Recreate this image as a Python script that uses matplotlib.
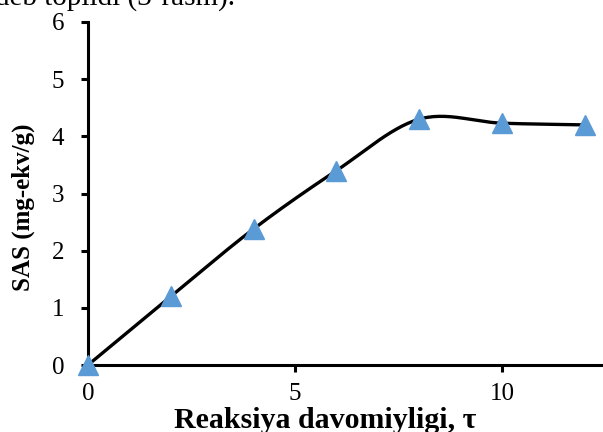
import numpy as np
import matplotlib.pyplot as plt

# data
time = [0, 2, 4, 6, 8, 10, 12]
sas = [0.0, 1.2, 2.38, 3.4, 4.3, 4.23, 4.2]
y_ticks = [0, 1, 2, 3, 4, 5, 6]
x_ticks = [0, 5, 10]


def smooth_curve(x, y, n=30):
    # Catmull-Rom style smoothing, like Excel's "smoothed line"
    x = np.asarray(x, float)
    y = np.asarray(y, float)
    px = np.concatenate([[2 * x[0] - x[1]], x, [2 * x[-1] - x[-2]]])
    py = np.concatenate([[2 * y[0] - y[1]], y, [2 * y[-1] - y[-2]]])
    xs, ys = [], []
    t = np.linspace(0, 1, n)
    for i in range(1, len(px) - 2):
        for p, out in ((px, xs), (py, ys)):
            p0, p1, p2, p3 = p[i - 1], p[i], p[i + 1], p[i + 2]
            out.extend(0.5 * (2 * p1 + (-p0 + p2) * t
                              + (2 * p0 - 5 * p1 + 4 * p2 - p3) * t ** 2
                              + (-p0 + 3 * p1 - 3 * p2 + p3) * t ** 3))
    return xs, ys


plt.rcParams["font.family"] = ["Liberation Serif", "DejaVu Serif"]

fig = plt.figure(figsize=(6.03, 4.32), dpi=100)
ax = fig.add_axes([88 / 603, 1 - 365 / 432, 515 / 603, 343 / 432])

sx, sy = smooth_curve(time, sas)
ax.plot(sx, sy, color="black", lw=2.4, zorder=2)
ax.plot(time, sas, linestyle="none", marker="^", markersize=15,
        color="#5B9BD5", clip_on=False, zorder=3)

ax.set_xlim(0, 12.44)
ax.set_ylim(0, 6)
ax.set_xticks(x_ticks)
ax.set_yticks(y_ticks)
ax.spines["top"].set_visible(False)
ax.spines["right"].set_visible(False)
for s in ("left", "bottom"):
    ax.spines[s].set_linewidth(2.2)
ax.tick_params(width=2.2, length=5, labelsize=18)
ax.tick_params(axis="x", pad=8)
ax.tick_params(axis="y", pad=12)

fig.text(325 / 603, 1 - 428 / 432, "Reaksiya davomiyligi, τ", fontsize=21.5,
         fontweight="bold", ha="center", va="baseline")
fig.text(23 / 603, 1 - 207 / 432, "SAS (mg-ekv/g)", fontsize=18,
         fontweight="bold", rotation=90, ha="center", va="center")

fig.text(-0.008, 1 - 5 / 432, "deb topildi (3-rasm).", fontsize=21,
         va="baseline", ha="left")

fig.savefig("out.png", dpi=100)
